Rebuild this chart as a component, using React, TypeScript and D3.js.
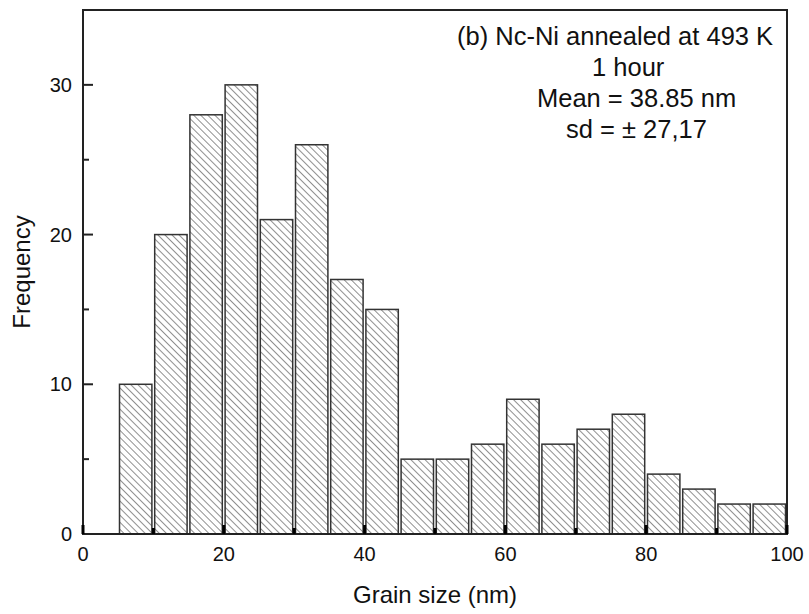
import React from "react";
import * as d3 from "d3";

const binStarts = [5, 10, 15, 20, 25, 30, 35, 40, 45, 50, 55, 60, 65, 70, 75, 80, 85, 90, 95];
const binWidth = 5;
const frequencies = [10, 20, 28, 30, 21, 26, 17, 15, 5, 5, 6, 9, 6, 7, 8, 4, 3, 2, 2];
const xTicks = [0, 20, 40, 60, 80, 100];
const xMinorTicks = [10, 30, 50, 70, 90];
const yTicks = [0, 10, 20, 30];
const yMinorTicks = [5, 15, 25];
const annotation = [
  { text: "(b) Nc-Ni annealed at 493 K", x: 457 },
  { text: "1 hour", x: 592 },
  { text: "Mean = 38.85 nm", x: 537 },
  { text: "sd = \u00B1 27,17", x: 566 },
];

const W = 809;
const H = 614;
const left = 83;
const right = 787;
const top = 10;
const bottom = 534;

export default function App() {
  const x = d3.scaleLinear().domain([0, 100]).range([left, right]);
  const y = d3.scaleLinear().domain([0, 35]).range([bottom, top]);
  const font = "Arial, 'Liberation Sans', Helvetica, sans-serif";
  const ink = "#222";

  return (
    <svg
      width={W}
      height={H}
      style={{ position: "absolute", left: 0, top: 0, background: "#fff" }}
      fontFamily={font}
    >
      <defs>
        <pattern
          id="hatch"
          patternUnits="userSpaceOnUse"
          width={5}
          height={5}
          patternTransform="rotate(-45)"
        >
          <rect width={5} height={5} fill="#fff" />
          <line x1={0} y1={0} x2={0} y2={5} stroke="#333" strokeWidth={1.1} />
        </pattern>
      </defs>
      <rect x={0} y={0} width={W} height={H} fill="#fff" />

      {binStarts.map((s, i) => {
        const x0 = x(s) + 1.3;
        const x1 = x(s + binWidth) - 1.5;
        const yv = y(frequencies[i]);
        return (
          <rect
            key={i}
            x={x0}
            y={yv}
            width={x1 - x0}
            height={bottom - yv}
            fill="url(#hatch)"
            stroke="#333"
            strokeWidth={1.5}
          />
        );
      })}

      {/* frame */}
      <rect
        x={left}
        y={top}
        width={right - left}
        height={bottom - top}
        fill="none"
        stroke={ink}
        strokeWidth={2}
      />

      {/* y ticks */}
      {yTicks.map((t) => (
        <g key={"y" + t}>
          <line x1={left} x2={left + 10} y1={y(t)} y2={y(t)} stroke={ink} strokeWidth={2} />
          <text x={left - 11} y={y(t)} dy="0.35em" textAnchor="end" fontSize={20} fill="#111">
            {t}
          </text>
        </g>
      ))}
      {yMinorTicks.map((t) => (
        <line key={"ym" + t} x1={left} x2={left + 6} y1={y(t)} y2={y(t)} stroke={ink} strokeWidth={2} />
      ))}

      {/* x ticks */}
      {xTicks.map((t) => (
        <g key={"x" + t}>
          <line x1={x(t)} x2={x(t)} y1={bottom} y2={bottom - 9} stroke="#000" strokeWidth={3} />
          <text x={x(t)} y={bottom + 27} textAnchor="middle" fontSize={20} fill="#111">
            {t}
          </text>
        </g>
      ))}
      {xMinorTicks.map((t) => (
        <line key={"xm" + t} x1={x(t)} x2={x(t)} y1={bottom} y2={bottom - 6} stroke="#000" strokeWidth={3} />
      ))}

      {/* axis titles */}
      <text x={(left + right) / 2} y={603} textAnchor="middle" fontSize={24} fill="#111">
        Grain size (nm)
      </text>
      <text
        transform={`translate(30, ${(top + bottom) / 2}) rotate(-90)`}
        textAnchor="middle"
        fontSize={24}
        fill="#111"
      >
        Frequency
      </text>

      {/* annotation */}
      {annotation.map((a, i) => (
        <text key={i} x={a.x} y={45 + i * 31} fontSize={25.5} fill="#111">
          {a.text}
        </text>
      ))}
    </svg>
  );
}
